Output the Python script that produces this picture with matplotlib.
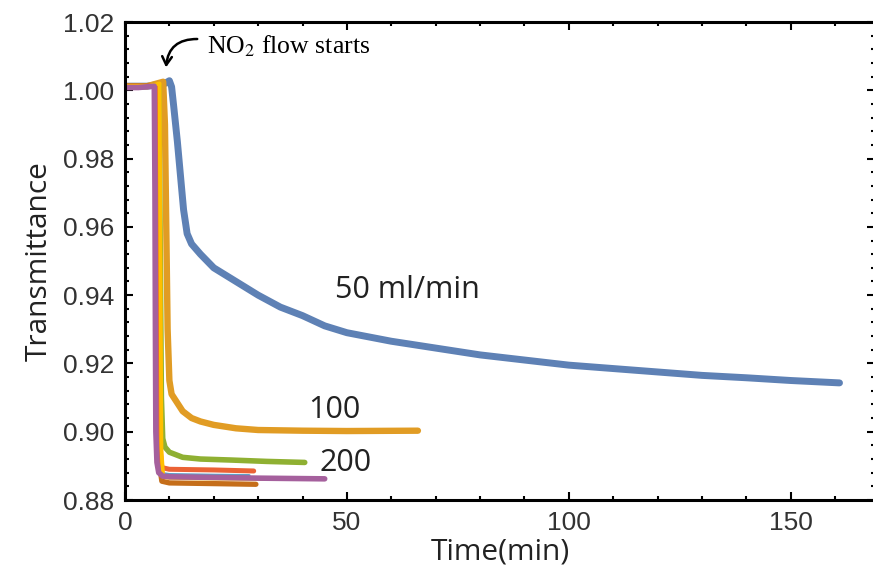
import numpy as np
import matplotlib.pyplot as plt
from matplotlib.ticker import MultipleLocator

plt.rcParams['mathtext.fontset'] = 'stix'

# Transmittance vs time (min)
t_50 = [0, 5, 9.0, 10.0, 10.5, 11.0, 11.8, 12.5, 13.2, 14.0, 15.0, 17.0, 20.0, 25.0, 30.0,
        35.0, 40.0, 45.0, 50.0, 60.0, 70.0, 80.0, 90.0, 100.0, 110.0, 120.0, 130.0,
        140.0, 150.0, 161.0]
T_50 = [1.0012, 1.0012, 1.0020, 1.0028, 1.0010, 0.9950, 0.9850, 0.9750, 0.9650, 0.9580,
        0.9550, 0.9520, 0.9480, 0.9440, 0.9400, 0.9365, 0.9340, 0.9310, 0.9290,
        0.9265, 0.9245, 0.9225, 0.9210, 0.9195, 0.9185, 0.9175, 0.9165, 0.9158,
        0.9150, 0.9143]

t_100 = [0, 5, 8.6, 9.0, 9.3, 9.6, 10.0, 10.5, 11.5, 13.0, 15.0, 17.0, 20.0, 25.0,
         30.0, 40.0, 50.0, 66.0]
T_100 = [1.0012, 1.0012, 1.0025, 0.9900, 0.9600, 0.9300, 0.9150, 0.9110, 0.9090,
         0.9060, 0.9040, 0.9030, 0.9020, 0.9010, 0.9005, 0.9003, 0.9002, 0.9003]

t_200 = [0, 5, 7.6, 7.9, 8.2, 8.5, 9.0, 10.0, 13.0, 17.0, 24.0, 32.0, 40.5]
T_200 = [1.0012, 1.0012, 1.0015, 0.9600, 0.9100, 0.8980, 0.8955, 0.8940, 0.8925,
         0.8920, 0.8917, 0.8913, 0.8910]

t_red = [0, 5, 7.3, 7.6, 7.9, 8.3, 10.0, 20.0, 29.0]
T_red = [1.0012, 1.0012, 1.0015, 0.9500, 0.8950, 0.8895, 0.8890, 0.8888, 0.8885]

t_brown = [0, 5, 7.2, 7.5, 7.8, 8.3, 10.0, 20.0, 29.5]
T_brown = [1.0012, 1.0012, 1.0015, 0.9500, 0.8900, 0.8855, 0.8850, 0.8848, 0.8846]

t_cyan = [0, 5, 7.3, 7.6, 7.9, 8.4, 10.0, 20.0, 28.0]
T_cyan = [1.0012, 1.0012, 1.0015, 0.9500, 0.8920, 0.8878, 0.8875, 0.8873, 0.8872]

t_yellow = [0, 5, 7.8, 8.0, 8.2, 8.6, 10.0, 20.0, 30.0, 41.5]
T_yellow = [1.0012, 1.0012, 1.0020, 0.9500, 0.8950, 0.8868, 0.8865, 0.8863, 0.8862, 0.8862]

t_purple = [0, 3, 6.6, 6.75, 6.85, 6.95, 7.2, 7.6, 8.5, 10.0, 20.0, 30.0, 45.0]
T_purple = [1.0008, 1.0008, 1.0012, 0.9700, 0.9300, 0.9000, 0.8910, 0.8880, 0.8870,
            0.8868, 0.8866, 0.8864, 0.8862]

series = [
    (t_50, T_50, '#5E81B5', 5.0),
    (t_100, T_100, '#E19C24', 4.6),
    (t_200, T_200, '#8FB032', 4.0),
    (t_brown, T_brown, '#C56E1A', 3.8),
    (t_cyan, T_cyan, '#5D9EC7', 2.0),
    (t_red, T_red, '#EB6235', 3.6),
    (t_yellow, T_yellow, '#FFBF00', 2.8),
    (t_purple, T_purple, '#A5609D', 4.0),
]

fig = plt.figure(figsize=(8.73, 5.85), dpi=100)
ax = fig.add_axes([125 / 873, 85 / 585, 750 / 873, 478 / 585])

for t, T, c, lw in series:
    ax.plot(t, T, color=c, lw=lw, solid_capstyle='round', solid_joinstyle='round')

ax.set_xlim(0, 169)
ax.set_ylim(0.88, 1.02)
ax.xaxis.set_major_locator(MultipleLocator(50))
ax.xaxis.set_minor_locator(MultipleLocator(10))
ax.yaxis.set_major_locator(MultipleLocator(0.02))
ax.yaxis.set_minor_locator(MultipleLocator(0.004))
ax.yaxis.set_major_formatter(plt.FormatStrFormatter('%.2f'))

ax.tick_params(which='both', direction='in', top=True, right=True, width=1.5,
               labelsize=19, colors='black')
ax.tick_params(which='major', length=6, pad=8)
ax.tick_params(which='minor', length=3)
for lbl in ax.get_xticklabels() + ax.get_yticklabels():
    lbl.set_family('Liberation Sans')
    lbl.set_color('#333333')
for s in ax.spines.values():
    s.set_linewidth(2.2)

ax.set_xlabel('Time(min)', family='Open Sans', fontsize=21.5, color='#222222', labelpad=2)
ax.set_ylabel('Transmittance', family='Open Sans', fontsize=21.5, color='#222222', labelpad=6)

ax.text(47.3, 0.9415, '50 ml/min', family='Open Sans', fontsize=22, va='center', color='#222222')
ax.text(41.2, 0.9064, '100', family='Open Sans', fontsize=22, va='center', color='#222222')
ax.text(43.9, 0.8909, '200', family='Open Sans', fontsize=22, va='center', color='#222222')

ax.annotate('', xy=(9.2, 1.0059), xytext=(16.9, 1.0150),
            arrowprops=dict(arrowstyle='->,head_length=0.6,head_width=0.35', color='black',
                            lw=1.8, connectionstyle='arc3,rad=0.5'))
ax.text(18.5, 1.0130, 'NO$_2$ flow starts', family='Liberation Serif', fontsize=18.5,
        va='center', ha='left')

fig.savefig('out.png', dpi=100)
